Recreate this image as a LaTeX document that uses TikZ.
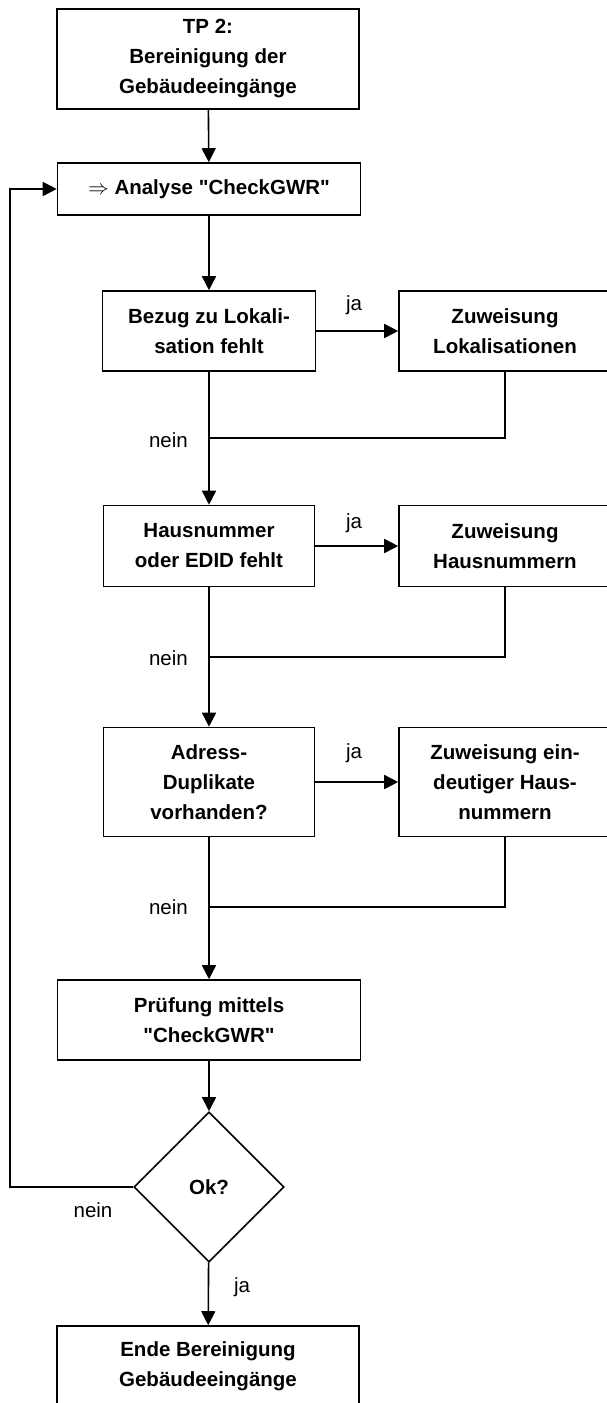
\documentclass[tikz,border=0pt]{standalone}
\usepackage{fontspec}
\setmainfont{Liberation Sans}
\usetikzlibrary{arrows.meta,shapes.geometric}
\begin{document}
\begin{tikzpicture}[x = 1pt, y = -1pt,
  box/.style = {draw, line width = 1.6pt, align = center, inner sep = 0pt,
    font = \bfseries\fontsize{20.5}{30}\selectfont},
  lbl/.style = {font = \fontsize{20.5}{24}\selectfont, inner sep = 0pt},
  flow/.style = {line width = 1.6pt, -{Triangle[length = 14pt, width = 14pt]}},
  link/.style = {line width = 1.6pt}]
\useasboundingbox (0,0) rectangle (606,1403);
%% main column
\node[box, minimum width = 302, minimum height = 100] (tp) at (208,59) {TP 2:\\Bereinigung der\\Gebäudeeingänge};
\node[box, minimum width = 303, minimum height = 52] (an) at (209,189) {$\Rightarrow$ Analyse \textquotedbl CheckGWR\textquotedbl};
\node[box, minimum width = 213, minimum height = 80] (bz) at (209,331) {Bezug zu Lokali-\\sation fehlt};
\node[box, minimum width = 211, minimum height = 81] (hn) at (209,546) {Hausnummer\\oder EDID fehlt};
\node[box, minimum width = 211, minimum height = 109] (ad) at (209,782) {Adress-\\Duplikate\\vorhanden?};
\node[box, minimum width = 303, minimum height = 80] (pr) at (209,1020) {Prüfung mittels\\\textquotedbl CheckGWR\textquotedbl};
\node[box, shape = diamond, minimum width = 150, minimum height = 150] (ok) at (209,1187) {Ok?};
\node[box, minimum width = 302, minimum height = 80] (en) at (208,1366) {Ende Bereinigung\\Gebäudeeingänge};
%% right column
\node[box, minimum width = 212, minimum height = 80] (zl) at (505,331) {Zuweisung\\Lokalisationen};
\node[box, minimum width = 212, minimum height = 81] (zh) at (505,546) {Zuweisung\\Hausnummern};
\node[box, minimum width = 212, minimum height = 109] (ze) at (505,782) {Zuweisung ein-\\deutiger Haus-\\nummern};
%% junctions
\coordinate (m1) at (209,438);
\coordinate (m2) at (209,657);
\coordinate (m3) at (209,907);
\coordinate (back) at (10,1187);
%% connectors
\draw[flow] (tp) -- (an);
\draw[flow] (an) -- (bz);
\draw[flow] (bz) -- (zl);
\draw[flow] (bz) -- (hn);
\draw[link] (zl.south) |- (m1);
\draw[flow] (hn) -- (zh);
\draw[flow] (hn) -- (ad);
\draw[link] (zh.south) |- (m2);
\draw[flow] (ad) -- (ze);
\draw[flow] (ad) -- (pr);
\draw[link] (ze.south) |- (m3);
\draw[flow] (pr) -- (ok);
\draw[flow] (ok) -- (en);
\draw[flow] (ok.west) -- (back) |- (an.west);
%% labels
\node[lbl] (ja1) at (354,305) {ja};
\node[lbl] (ja2) at (354,523) {ja};
\node[lbl] (ja3) at (354,753) {ja};
\node[lbl] (ja4) at (242,1287) {ja};
\node[lbl, anchor = east] (nein1) at (188,440) {nein};
\node[lbl, anchor = east] (nein2) at (188,658) {nein};
\node[lbl, anchor = east] (nein3) at (188,907) {nein};
\node[lbl] (nein4) at (93,1210) {nein};
\end{tikzpicture}
\end{document}
